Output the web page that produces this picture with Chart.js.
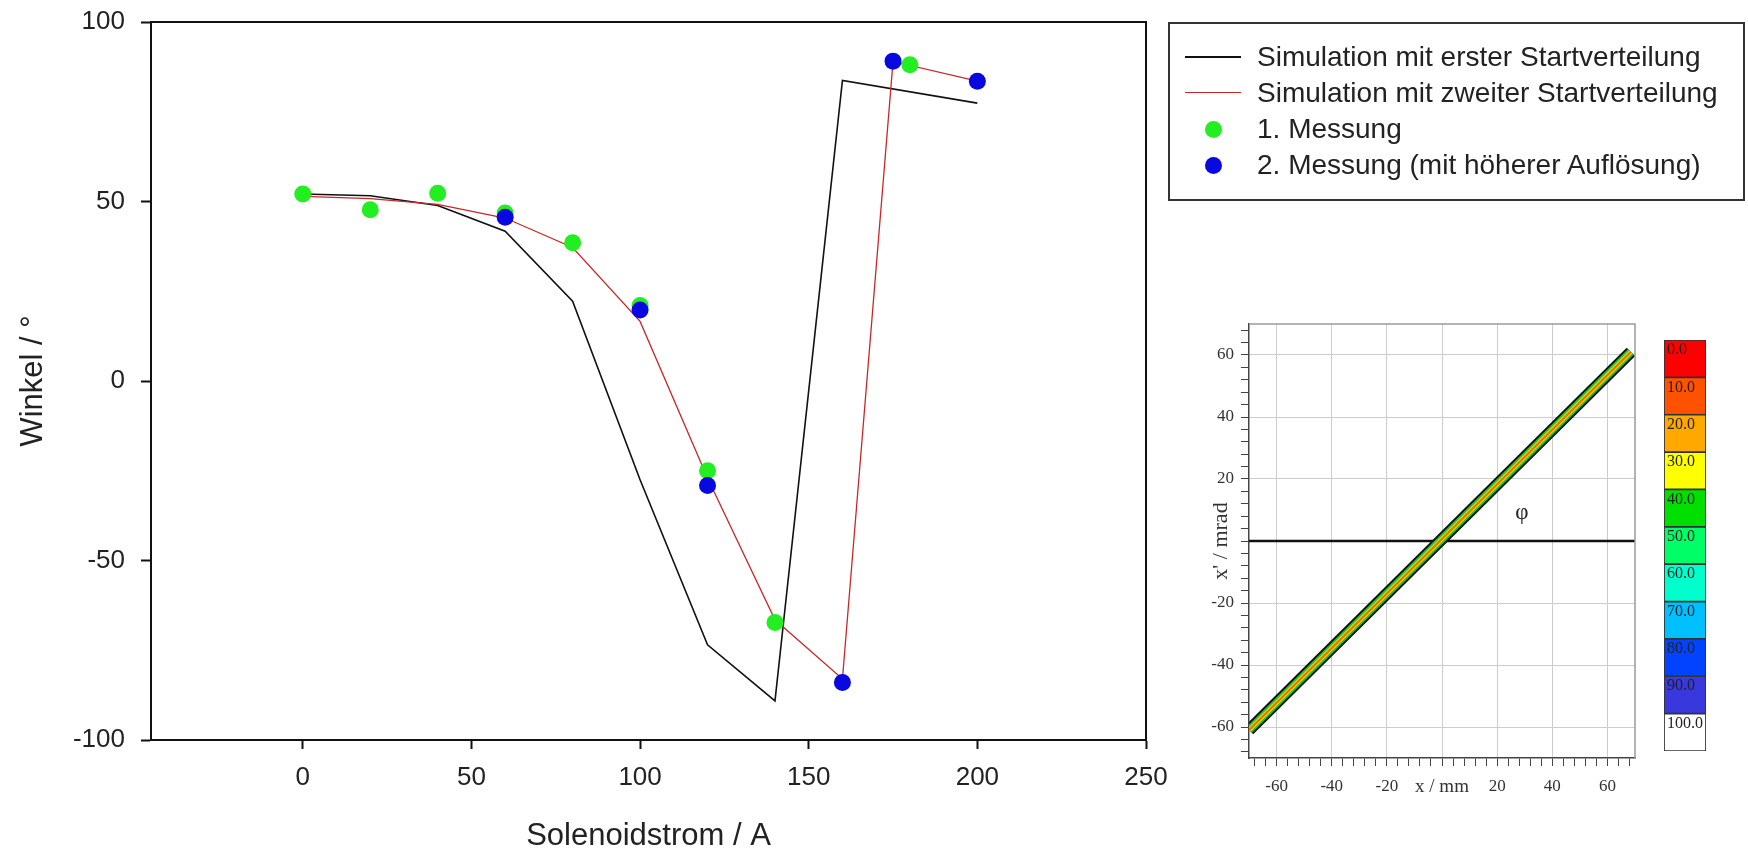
<!DOCTYPE html>
<html>
<head>
<meta charset="utf-8">
<script src="https://cdn.jsdelivr.net/npm/chart.js@4.4.1/dist/chart.umd.min.js"></script>
<style>
  body { margin: 0; background: #fff; }
  #wrap { position: relative; width: 1748px; height: 852px; overflow: hidden; background: #fff; }
  canvas { position: absolute; }
  #mainChart { left: 0; top: 0; }
  #phaseChart { left: 1165px; top: 300px; }
  #scaleChart { left: 1655px; top: 330px; }
  #legend {
    position: absolute; left: 1168px; top: 22px; width: 577px; height: 179px;
    box-sizing: border-box; border: 2px solid #333; padding-top: 15px;
    font-family: "Liberation Sans", Arial, sans-serif; font-size: 28px; color: #222;
  }
  .row { display: flex; align-items: center; height: 36px; white-space: nowrap; }
  .sym { width: 87px; position: relative; height: 36px; flex: none; }
  .sym .ln { position: absolute; left: 15px; width: 56px; top: 17px; height: 0; }
  .sym .dot { position: absolute; left: 35px; top: 10px; width: 17px; height: 17px; border-radius: 50%; }
</style>
</head>
<body>
<div id="wrap">
  <canvas id="mainChart" width="1170" height="852"></canvas>
  <div id="legend"></div>
  <canvas id="phaseChart" width="485" height="552"></canvas>
  <canvas id="scaleChart" width="93" height="452"></canvas>
</div>
<script>
// main plot: Winkel vs Solenoidstrom
var sim1X = [0, 20, 40, 60, 80, 100, 120, 140, 160, 200];
var sim1Y = [52.1, 51.6, 48.9, 41.7, 22.2, -27.5, -73.5, -89.1, 83.7, 77.4];
var sim2X = [0, 20, 40, 60, 80, 100, 120, 140, 160, 175, 200];
var sim2Y = [51.4, 50.8, 49.2, 45.4, 37.2, 16.6, -27.0, -66.5, -83.0, 89.0, 83.5];
var mess1X = [0, 20, 40, 60, 80, 100, 120, 140, 180];
var mess1Y = [52.1, 47.7, 52.3, 46.8, 38.5, 21.0, -25.0, -67.3, 88.1];
var mess2X = [60, 100, 120, 160, 175, 200];
var mess2Y = [45.6, 19.8, -29.1, -84.0, 89.1, 83.5];
var xTicks = [0, 50, 100, 150, 200, 250];
var yTicks = [-100, -50, 0, 50, 100];

// inset: phase space plot
var phaseTicks = [-60, -40, -20, 0, 20, 40, 60];
var beamLine = [{x: -70, y: -61}, {x: 68.5, y: 61}];
var zeroLine = [{x: -70, y: 0}, {x: 70, y: 0}];
var phaseNotes = [{x: 29, y: 9, text: 'φ'}];
var levels = [0, 10, 20, 30, 40, 50, 60, 70, 80, 90, 100];
var levelColors = ['#ff0000', '#ff5200', '#ffa800', '#ffff00', '#00e000', '#00ff66',
                   '#00ffcc', '#00c0ff', '#0044ff', '#3838dc', '#ffffff'];

var sans = '"Liberation Sans", Arial, sans-serif';
var serif = '"Liberation Serif", "Times New Roman", serif';

function toPoints(xs, ys) {
    return xs.map((x, i) => ({x: x, y: ys[i]}));
}

function minorTicks(lo, hi, step) {
    var t = [];
    for (var v = lo; v <= hi; v += step) t.push({value: v});
    return t;
}

// labels may hang over the plot edges, keep the layout padding as given
function noOverflow(s) {
    s.paddingTop = 0;
    s.paddingBottom = 0;
    s.paddingLeft = 0;
    s.paddingRight = 0;
}

// top + right border of the plot box
var frameLines = {
    id: 'frameLines',
    afterDatasetsDraw(chart, args, opts) {
        var a = chart.chartArea, ctx = chart.ctx;
        ctx.save();
        ctx.strokeStyle = opts.color;
        ctx.lineWidth = opts.width;
        ctx.beginPath();
        ctx.moveTo(a.left, a.top);
        ctx.lineTo(a.right, a.top);
        ctx.lineTo(a.right, a.bottom);
        ctx.stroke();
        ctx.restore();
    }
};

var notes = {
    id: 'notes',
    afterDatasetsDraw(chart, args, opts) {
        var ctx = chart.ctx;
        ctx.save();
        ctx.font = opts.font;
        ctx.fillStyle = opts.color;
        ctx.textAlign = 'center';
        ctx.textBaseline = 'middle';
        opts.items.forEach(n => {
            ctx.fillText(n.text, chart.scales.x.getPixelForValue(n.x), chart.scales.y.getPixelForValue(n.y));
        });
        ctx.restore();
    }
};

// level numbers written into the top of each colour cell
var cellLabels = {
    id: 'cellLabels',
    afterDatasetsDraw(chart, args, opts) {
        var ctx = chart.ctx, y = chart.scales.y, left = chart.chartArea.left;
        ctx.save();
        ctx.font = opts.font;
        ctx.fillStyle = opts.color;
        ctx.textAlign = 'left';
        ctx.textBaseline = 'middle';
        opts.values.forEach(v => {
            ctx.fillText(v.toFixed(1), left + 3, y.getPixelForValue(v) + 10);
        });
        ctx.restore();
    }
};

var mainSets = [
    {label: 'Simulation mit erster Startverteilung', data: toPoints(sim1X, sim1Y), showLine: true,
     borderColor: '#111', borderWidth: 1.6, pointRadius: 0, order: 3},
    {label: 'Simulation mit zweiter Startverteilung', data: toPoints(sim2X, sim2Y), showLine: true,
     borderColor: '#c62828', borderWidth: 1.3, pointRadius: 0, order: 2},
    {label: '1. Messung', data: toPoints(mess1X, mess1Y), showLine: false,
     pointRadius: 8.5, backgroundColor: '#22ee22', borderColor: '#22ee22', pointBorderWidth: 0, order: 1},
    {label: '2. Messung (mit höherer Auflösung)', data: toPoints(mess2X, mess2Y), showLine: false,
     pointRadius: 8.5, backgroundColor: '#0808e0', borderColor: '#0808e0', pointBorderWidth: 0, order: 0}
];

var tickFont = {family: sans, size: 26};
var titleFont = {family: sans, size: 31, lineHeight: 1};

var mainChart = new Chart(document.getElementById('mainChart'), {
    type: 'scatter',
    data: {datasets: mainSets},
    options: {
        responsive: false,
        animation: false,
        layout: {padding: {top: 22, right: 24, left: 0, bottom: 0}},
        plugins: {
            legend: {display: false},
            tooltip: {enabled: false},
            frameLines: {color: '#111', width: 2}
        },
        scales: {
            x: {
                type: 'linear', min: -45, max: 250,
                afterBuildTicks: s => { s.ticks = xTicks.map(v => ({value: v})); },
                afterFit: s => { s.height = 112; noOverflow(s); },
                ticks: {font: tickFont, color: '#222', padding: 13, maxRotation: 0, autoSkip: false},
                grid: {drawOnChartArea: false, tickLength: 9, tickColor: '#111', tickWidth: 2},
                border: {color: '#111', width: 2},
                title: {display: true, text: 'Solenoidstrom / A', font: titleFont, color: '#222',
                        padding: {top: 0, bottom: 0}}
            },
            y: {
                type: 'linear', min: -100, max: 100,
                afterBuildTicks: s => { s.ticks = yTicks.map(v => ({value: v})); },
                afterFit: s => { s.width = 151; noOverflow(s); },
                ticks: {font: tickFont, color: '#222', padding: 16},
                grid: {drawOnChartArea: false, tickLength: 10, tickColor: '#111', tickWidth: 2},
                border: {color: '#111', width: 2},
                title: {display: true, text: 'Winkel / °', font: titleFont, color: '#222',
                        padding: {top: 17.5, bottom: 0}}
            }
        }
    },
    plugins: [frameLines]
});

// legend box built from the datasets
var legendBox = document.getElementById('legend');
mainSets.forEach(ds => {
    var row = document.createElement('div');
    row.className = 'row';
    var sym = document.createElement('div');
    sym.className = 'sym';
    var mark = document.createElement('div');
    if (ds.showLine) {
        mark.className = 'ln';
        mark.style.borderTop = ds.borderWidth + 0.4 + 'px solid ' + ds.borderColor;
    } else {
        mark.className = 'dot';
        mark.style.background = ds.backgroundColor;
    }
    sym.appendChild(mark);
    var txt = document.createElement('span');
    txt.textContent = ds.label;
    row.appendChild(sym);
    row.appendChild(txt);
    legendBox.appendChild(row);
});

// inset phase space chart
var majorGrid = ctx => (ctx.tick && phaseTicks.includes(ctx.tick.value)) ? '#cdcdcd' : 'rgba(0,0,0,0)';
var phaseTickFont = ctx => ({family: serif, size: (ctx.tick && ctx.tick.value === 0) ? 19 : 17});

new Chart(document.getElementById('phaseChart'), {
    type: 'scatter',
    data: {
        datasets: [
            {data: zeroLine, showLine: true, borderColor: '#111', borderWidth: 2.5, pointRadius: 0, order: 5},
            {data: beamLine, showLine: true, borderColor: '#101010', borderWidth: 12, pointRadius: 0, order: 4},
            {data: beamLine, showLine: true, borderColor: '#18c830', borderWidth: 8, pointRadius: 0, order: 3},
            {data: beamLine, showLine: true, borderColor: '#e8d000', borderWidth: 4.5, pointRadius: 0, order: 2},
            {data: beamLine, showLine: true, borderColor: '#e07010', borderWidth: 2, pointRadius: 0, order: 1}
        ]
    },
    options: {
        responsive: false,
        animation: false,
        layout: {padding: {top: 24, right: 15, left: 0, bottom: 0}},
        plugins: {
            legend: {display: false},
            tooltip: {enabled: false},
            frameLines: {color: '#9a9a9a', width: 1.5},
            notes: {items: phaseNotes, font: '23px ' + serif, color: '#222'}
        },
        scales: {
            x: {
                type: 'linear', min: -70, max: 70,
                afterBuildTicks: s => { s.ticks = minorTicks(-68, 68, 4); },
                afterFit: s => { s.height = 94; noOverflow(s); },
                ticks: {font: phaseTickFont, color: '#333', padding: 10, maxRotation: 0, autoSkip: false,
                        callback: v => v === 0 ? 'x / mm' : (phaseTicks.includes(v) ? String(v) : '')},
                grid: {color: majorGrid, tickColor: '#444', tickLength: 8, lineWidth: 1},
                border: {color: '#444', width: 1.5}
            },
            y: {
                type: 'linear', min: -70, max: 70,
                afterBuildTicks: s => { s.ticks = minorTicks(-68, 68, 4); },
                afterFit: s => { s.width = 84; noOverflow(s); },
                ticks: {font: {family: serif, size: 17}, color: '#333', padding: 7, autoSkip: false,
                        callback: v => (v !== 0 && phaseTicks.includes(v)) ? String(v) : ''},
                grid: {color: majorGrid, tickColor: '#444', tickLength: 8, lineWidth: 1},
                border: {color: '#444', width: 1.5},
                title: {display: true, text: "x' / mrad", font: {family: serif, size: 22, lineHeight: 1},
                        color: '#333', padding: {top: 45, bottom: 0}}
            }
        }
    },
    plugins: [frameLines, notes]
});

// colour scale next to the inset
new Chart(document.getElementById('scaleChart'), {
    type: 'bar',
    data: {
        labels: [''],
        datasets: levels.map((lvl, i) => ({
            data: [[lvl, lvl + 10]],
            backgroundColor: levelColors[i],
            borderColor: '#333',
            borderWidth: 1.2,
            borderSkipped: false,
            grouped: false,
            barPercentage: 1,
            categoryPercentage: 1
        }))
    },
    options: {
        responsive: false,
        animation: false,
        layout: {padding: {left: 9, right: 42, top: 10, bottom: 31}},
        plugins: {
            legend: {display: false},
            tooltip: {enabled: false},
            cellLabels: {values: levels, font: '16px ' + serif, color: '#222'}
        },
        scales: {
            x: {display: false},
            y: {type: 'linear', reverse: true, min: 0, max: 110, display: false}
        }
    },
    plugins: [cellLabels]
});
</script>
</body>
</html>
